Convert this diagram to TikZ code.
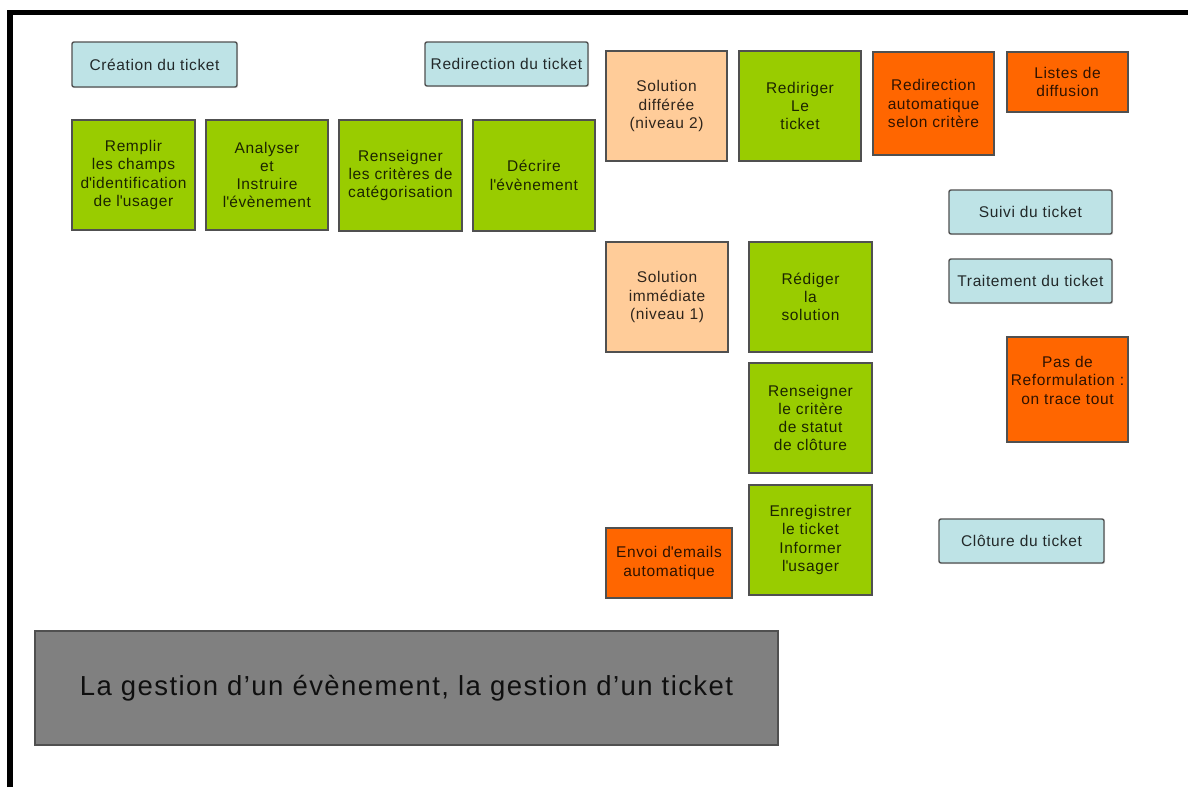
\documentclass[tikz,border=0pt]{standalone}
\usepackage{fontspec}
\setmainfont{Liberation Sans}
\usetikzlibrary{shadows}

\definecolor{ticketblue}{HTML}{BEE3E6}
\definecolor{stepgreen}{HTML}{99CC00}
\definecolor{autoorange}{HTML}{FF6600}
\definecolor{levelpeach}{HTML}{FFCC99}
\definecolor{titlegrey}{HTML}{808080}
\definecolor{cardedge}{HTML}{505050}

\newcommand\cardfont{\fontsize{15.5}{18.3}\selectfont\addfontfeature{LetterSpace=4}}
\newcommand\bannerfont{\fontsize{27.5}{31}\selectfont\addfontfeature{LetterSpace=5.2}}
\newcommand\q{\textquotesingle}

\tikzset{
  card/.style={draw=cardedge, line width=1.4pt, inner sep=0pt, align=center,
    font=\cardfont, text=black, text opacity=0.82,
    drop shadow={shadow xshift=1.2pt, shadow yshift=-1.2pt, opacity=0.18}},
  phase/.style={card, fill=ticketblue, rounded corners=2pt},
  task/.style={card, fill=stepgreen},
  auto/.style={card, fill=autoorange},
  level/.style={card, fill=levelpeach},
  banner/.style={card, fill=titlegrey, font=\bannerfont, text opacity=0.88},
  wh/.style 2 args={minimum width=#1pt, minimum height=#2pt}
}

\begin{document}
\begin{tikzpicture}[x=1pt,y=-1pt]
\useasboundingbox (0,0) rectangle (1188,787);
\fill[white] (0,0) rectangle (1188,787);

% frame edges
\draw[line width=5.5pt] (9.8,787) -- (9.8,12.5) -- (1188,12.5);

% phases of the ticket
\node[phase, wh={165}{45}] (creation)   at (154.5,64.5) {Création du ticket};
\node[phase, wh={163}{44}] (redirection) at (506.5,64)  {Redirection du ticket};
\node[phase, wh={163}{44}] (suivi)      at (1030.5,212) {Suivi du ticket};
\node[phase, wh={163}{44}] (traitement) at (1030.5,281) {Traitement du ticket};
\node[phase, wh={165}{44}] (cloture)    at (1021.5,541) {Clôture du ticket};

% steps of the event
\node[task, wh={123}{110}] (remplir)  at (133.5,175)   {Remplir\\les champs\\d\q identification\\de l\q usager};
\node[task, wh={122}{110}] (analyser) at (267,175)     {Analyser\\et\\Instruire\\l\q évènement};
\node[task, wh={123}{111}] (categ)    at (400.5,175.5) {Renseigner\\les critères de\\catégorisation};
\node[task, wh={122}{111}] (decrire)  at (534,175.5)   {Décrire\\l\q évènement};
\node[task, wh={122}{110}] (rediriger) at (800,106)    {Rediriger\\Le\\ticket};
\node[task, wh={123}{110}] (rediger)  at (810.5,297)   {Rédiger\\la\\solution};
\node[task, wh={123}{110}] (statut)   at (810.5,418)   {Renseigner\\le critère\\de statut\\de clôture};
\node[task, wh={123}{110}] (enreg)    at (810.5,540)   {Enregistrer\\le ticket\\Informer\\l\q usager};

% solution levels
\node[level, wh={121}{110}] (differee)  at (666.5,106) {Solution\\différée\\(niveau 2)};
\node[level, wh={122}{110}] (immediate) at (667,297)   {Solution\\immédiate\\(niveau 1)};

% automatic features
\node[auto, wh={121}{103}] (redirauto) at (933.5,103.5) {Redirection\\automatique\\selon critère};
\node[auto, wh={121}{60}]  (listes)    at (1067.5,82)   {Listes de\\diffusion};
\node[auto, wh={121}{105}] (reform)    at (1067.5,389.5) {Pas de\\Reformulation :\\on trace tout\\~};
\node[auto, wh={126}{70}]  (envoi)     at (669,563)     {Envoi d\q emails\\automatique};

% title banner
\node[banner, wh={743}{114}] (titre) at (406.5,688) {La gestion d’un évènement, la gestion d’un ticket};
\end{tikzpicture}
\end{document}
